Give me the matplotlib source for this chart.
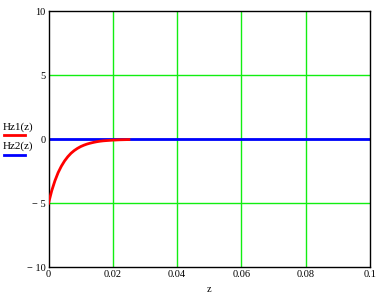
import numpy as np
import matplotlib.pyplot as plt

# values
z1 = [0, 0.001, 0.002, 0.003, 0.004, 0.005, 0.006, 0.007, 0.008, 0.009, 0.010,
      0.011, 0.012, 0.013, 0.014, 0.015, 0.016, 0.017, 0.018, 0.020, 0.022, 0.025]
hz1 = [-5, -4.02, -3.24, -2.60, -2.10, -1.69, -1.36, -1.09, -0.88, -0.71, -0.57,
       -0.46, -0.37, -0.30, -0.24, -0.19, -0.15, -0.12, -0.10, -0.065, -0.04, -0.02]
z2 = [0, 0.1]
hz2 = [0, 0]

xticks = [0, 0.02, 0.04, 0.06, 0.08, 0.1]
xlabels = ['0', '0.02', '0.04', '0.06', '0.08', '0.1']
yticks = [-10, -5, 0, 5, 10]
ylabels = ['\u2212 10', '\u2212 5', '0', '5', '10']

plt.rcParams['font.family'] = ['Liberation Serif', 'DejaVu Serif']
fig = plt.figure(figsize=(3.86, 2.97), dpi=100)
ax = fig.add_axes([48.5 / 386, 1 - 267.3 / 297, 321.5 / 386, 256 / 297])

for x in [0.02, 0.04, 0.06, 0.08]:
    ax.axvline(x, color='#11ee11', lw=1, zorder=1)
for y in [-5, 0, 5]:
    ax.axhline(y, color='#11ee11', lw=1, zorder=1)

ax.plot(z1, hz1, color='#ff0000', lw=2, zorder=3)
ax.plot(z2, hz2, color='#0000ff', lw=2, zorder=2)

ax.set_xlim(0, 0.1)
ax.set_ylim(-10, 10)
ax.set_xticks(xticks)
ax.set_xticklabels(xlabels)
ax.set_yticks(yticks)
ax.set_yticklabels(ylabels)
ax.tick_params(length=0, labelsize=7.5, pad=2)
for s in ax.spines.values():
    s.set_linewidth(1)
    s.set_color('black')
ax.set_xlabel('z', fontsize=7.5, labelpad=4)

# legend drawn as text + short lines left of the axes
fig.text(3 / 386, 1 - 127 / 297, 'Hz1(z)', fontsize=8, va='center', ha='left')
fig.add_artist(plt.Line2D([4 / 386, 25 / 386], [1 - 135 / 297] * 2, color='#ff0000', lw=2))
fig.text(3 / 386, 1 - 146 / 297, 'Hz2(z)', fontsize=8, va='center', ha='left')
fig.add_artist(plt.Line2D([4 / 386, 25 / 386], [1 - 155 / 297] * 2, color='#0000ff', lw=2))

fig.savefig('out.png', dpi=100)
